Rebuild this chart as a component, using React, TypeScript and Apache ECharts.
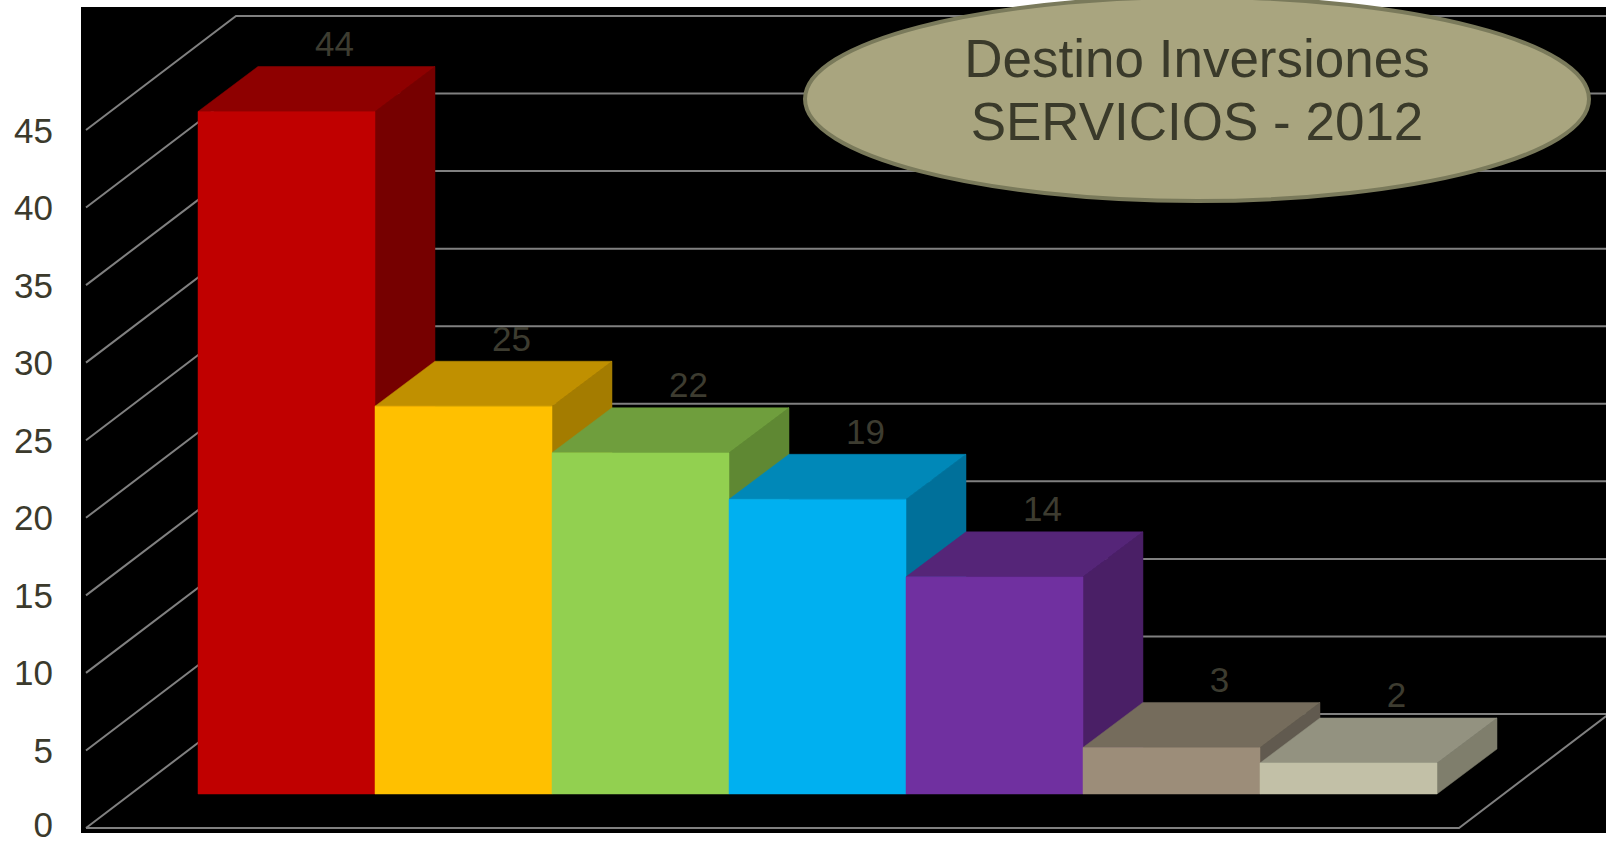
import React, { useEffect, useRef } from "react";
import * as echarts from "echarts";

const categories = ["1", "2", "3", "4", "5", "6", "7"];
const values = [44, 25, 22, 19, 14, 3, 2];
const frontColors = ["#C00000", "#FFC000", "#92D050", "#00B0F0", "#7030A0", "#9C8D79", "#C2C0A7"];
const topColors = ["#8E0000", "#C09000", "#6F9E3D", "#0088B8", "#552578", "#756C5C", "#939280"];
const sideColors = ["#760000", "#A47C00", "#5F8833", "#00709A", "#4A1F66", "#615A4F", "#7F7E6C"];
const yTicks = [0, 5, 10, 15, 20, 25, 30, 35, 40, 45];
const titleLines = ["Destino Inversiones", "SERVICIOS - 2012"];

const FLOOR_DX = 150;
const FLOOR_DY = -114;
const FLOOR_SIDE = 67;
const BAR_OX = 45;
const BAR_OY = -34;
const BAR_DX = 60;
const BAR_DY = -45;
const LINE_COLOR = "#808080";
const LABEL_COLOR = "#3B3A2C";
const FONT = '"Liberation Sans", Arial, sans-serif';

export default function App() {
  const ref = useRef<HTMLDivElement>(null);
  useEffect(() => {
    if (!ref.current) return;
    const chart = echarts.init(ref.current, undefined, { renderer: "svg" });
    const option: any = {
      animation: false,
      backgroundColor: "#ffffff",
      grid: {
        left: 153,
        right: 214,
        top: 130,
        bottom: 14,
        containLabel: false,
        outerBoundsMode: "none",
      },
      xAxis: {
        type: "category",
        data: categories,
        axisLine: { show: false },
        axisTick: { show: false },
        axisLabel: { show: false },
        splitLine: { show: false },
      },
      yAxis: {
        type: "value",
        min: 0,
        max: 45,
        interval: 5,
        axisLine: { show: false },
        axisTick: { show: false },
        splitLine: { show: false },
        axisLabel: {
          margin: 100,
          fontSize: 35,
          lineHeight: 24,
          fontFamily: FONT,
          color: LABEL_COLOR,
          formatter: (v: number) => (v === 0 ? "{z|0}" : String(v)),
          rich: {
            z: {
              fontSize: 35,
              lineHeight: 24,
              fontFamily: FONT,
              color: LABEL_COLOR,
              padding: [0, 0, 8, 0],
            },
          },
        },
      },
      graphic: [
        {
          type: "rect",
          z: -10,
          shape: { x: 81, y: 7, width: 1525, height: 826 },
          style: { fill: "#000000" },
        },
        {
          type: "ellipse",
          z: 100,
          shape: { cx: 1197, cy: 99, rx: 392, ry: 102 },
          style: { fill: "#A9A57F", stroke: "#7A7A5B", lineWidth: 4 },
        },
        ...titleLines.map((t, k) => ({
          type: "text",
          z: 101,
          x: 1197,
          y: 58 + k * 63,
          style: {
            text: t,
            font: `53px ${FONT}`,
            fill: "#3A3A2A",
            textAlign: "center",
            textVerticalAlign: "middle",
          },
        })),
      ],
      series: [
        {
          type: "custom",
          clip: false,
          z: 1,
          data: yTicks.map((v) => [0, v]),
          encode: { x: 0, y: 1 },
          renderItem: (params: any, api: any) => {
            const cs = params.coordSys;
            const v = api.value(1);
            const y = api.coord([0, v])[1];
            const x0 = cs.x - FLOOR_SIDE;
            const x1 = cs.x + cs.width + FLOOR_SIDE;
            const children: any[] = [
              {
                type: "polyline",
                shape: { points: [[x0, y], [x0 + FLOOR_DX, y + FLOOR_DY], [x1 + FLOOR_DX + 20, y + FLOOR_DY]] },
                style: { stroke: LINE_COLOR, lineWidth: 2, fill: null },
              },
            ];
            if (v === 0) {
              children.push({
                type: "polyline",
                shape: { points: [[x0, y], [x1, y], [x1 + FLOOR_DX, y + FLOOR_DY]] },
                style: { stroke: LINE_COLOR, lineWidth: 2, fill: null },
              });
            }
            return { type: "group", children };
          },
        },
        {
          type: "custom",
          clip: false,
          z: 5,
          data: values.map((v, i) => [i, v]),
          encode: { x: 0, y: 1 },
          renderItem: (params: any, api: any) => {
            const i = api.value(0);
            const v = api.value(1);
            const top = api.coord([i, v]);
            const base = api.coord([i, 0]);
            const bw = api.size([1, 0])[0];
            const cx = top[0] + BAR_OX;
            const l = cx - bw / 2;
            const r = cx + bw / 2;
            const t = top[1] + BAR_OY;
            const b = base[1] + BAR_OY;
            const fc = frontColors[i];
            const tc = topColors[i];
            const sc = sideColors[i];
            return {
              type: "group",
              children: [
                {
                  type: "polygon",
                  shape: { points: [[r, t], [r + BAR_DX, t + BAR_DY], [r + BAR_DX, b + BAR_DY], [r, b]] },
                  style: { fill: sc, stroke: sc, lineWidth: 0.5 },
                },
                {
                  type: "polygon",
                  shape: { points: [[l, t], [l + BAR_DX, t + BAR_DY], [r + BAR_DX, t + BAR_DY], [r, t]] },
                  style: { fill: tc, stroke: tc, lineWidth: 0.5 },
                },
                {
                  type: "polygon",
                  shape: { points: [[l, t], [r, t], [r, b], [l, b]] },
                  style: { fill: fc, stroke: fc, lineWidth: 0.5 },
                },
                {
                  type: "text",
                  x: cx + 48,
                  y: t - 68,
                  style: {
                    text: String(v),
                    font: `35px ${FONT}`,
                    fill: "#3D3C30",
                    textAlign: "center",
                    textVerticalAlign: "middle",
                  },
                },
              ],
            };
          },
        },
      ],
    };
    chart.setOption(option);
    return () => chart.dispose();
  }, []);
  return (
    <div
      ref={ref}
      style={{ position: "fixed", left: 0, top: 0, width: 1606, height: 842 }}
    />
  );
}
